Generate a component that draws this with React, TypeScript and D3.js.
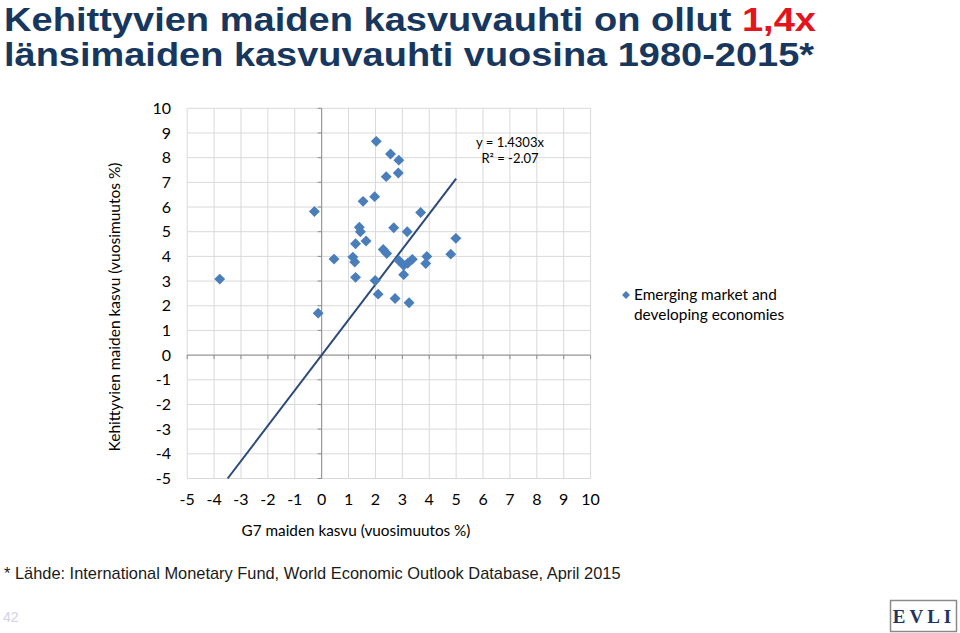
import React from "react";
import * as d3 from "d3";

const titleLine1 = "Kehittyvien maiden kasvuvauhti on ollut ";
const titleHighlight = "1,4x";
const titleLine2 = "länsimaiden kasvuvauhti vuosina 1980-2015*";
const footnote = "* Lähde: International Monetary Fund, World Economic Outlook Database, April 2015";
const xAxisTitle = "G7 maiden kasvu (vuosimuutos %)";
const yAxisTitle = "Kehittyvien maiden kasvu (vuosimuutos %)";
const legendLines = ["Emerging market and", "developing economies"];
const trendLabel = ["y = 1.4303x", "R² = -2.07"];
const trendSlope = 1.4303;
const pageNumber = "42";

const xTicks = d3.range(-5, 11, 1);
const yTicks = d3.range(-5, 11, 1);

// G7 growth (x) and emerging-market growth (y)
const g7Growth = [
  2.03, 2.56, 2.87, 2.4, 2.85, 1.97, 1.54, -0.27, 3.68, 1.4, 1.44, 2.68,
  3.18, 4.99, 1.26, 1.65, 2.29, 2.42, 0.46, 1.16, 1.23, 2.87, 3.05, 3.37,
  3.91, 3.87, 4.8, 3.05, 1.26, -3.79, 1.99, 2.1, 2.73, 3.25, -0.13, 3.2,
];
const emGrowth = [
  8.66, 8.15, 7.9, 7.23, 7.38, 6.42, 6.23, 5.82, 5.78, 5.18, 5.0, 5.16,
  5.0, 4.73, 4.51, 4.62, 4.28, 4.12, 3.89, 3.97, 3.77, 3.83, 3.64, 3.88,
  4.0, 3.71, 4.09, 3.26, 3.15, 3.08, 3.02, 2.47, 2.29, 2.12, 1.7, 3.72,
];

const chartFont = "Lato, 'Open Sans', sans-serif";
const titleFont = "'Liberation Sans Narrow', 'Liberation Sans', Arial, sans-serif";
const markerColor = "#4a7ebb";
const lineColor = "#2c4a78";
const titleColor = "#17375e";

export default function App() {
  const x = d3.scaleLinear().domain([-5, 10]).range([187.2, 590.6]);
  const y = d3.scaleLinear().domain([-5, 10]).range([478.5, 108.3]);
  const diamond = d3.symbol().type(d3.symbolDiamond2).size(76)();
  const legendDiamond = d3.symbol().type(d3.symbolDiamond2).size(40)();

  const xStart = -5 / trendSlope;
  const xEnd = 5;
  const trend = d3.line<number>()
    .x((d) => x(d))
    .y((d) => y(trendSlope * d))([xStart, xEnd]);

  return (
    <div style={{ position: "absolute", left: 0, top: 0 }}>
      <svg width={960} height={633} style={{ display: "block", background: "#fff" }}>
        {/* Title */}
        <text x={4} y={31} fontFamily={titleFont} fontWeight="bold" fontSize={33.5} fill={titleColor} textLength={812} lengthAdjust="spacingAndGlyphs">
          {titleLine1}
          <tspan fill="#e3141c">{titleHighlight}</tspan>
        </text>
        <text x={4} y={66} fontFamily={titleFont} fontWeight="bold" fontSize={33.5} fill={titleColor} textLength={810} lengthAdjust="spacingAndGlyphs">
          {titleLine2}
        </text>

        {/* Gridlines */}
        <g>
          {xTicks.map((t) => (
            <line key={"gx" + t} x1={x(t)} x2={x(t)} y1={y(10)} y2={y(-5)} stroke="#d9d9d9" strokeWidth={1} />
          ))}
          {yTicks.map((t) => (
            <line key={"gy" + t} x1={x(-5)} x2={x(10)} y1={y(t)} y2={y(t)} stroke="#d9d9d9" strokeWidth={1} />
          ))}
        </g>
        {/* Zero axes */}
        <line x1={x(0)} x2={x(0)} y1={y(10)} y2={y(-5)} stroke="#8c8c8c" strokeWidth={1} />
        <line x1={x(-5)} x2={x(10)} y1={y(0)} y2={y(0)} stroke="#8c8c8c" strokeWidth={1} />
        {yTicks.map((t) => (
          <line key={"ty" + t} x1={x(0) - 4} x2={x(0)} y1={y(t)} y2={y(t)} stroke="#8c8c8c" />
        ))}
        {xTicks.map((t) => (
          <line key={"tx" + t} x1={x(t)} x2={x(t)} y1={y(0)} y2={y(0) + 4} stroke="#8c8c8c" />
        ))}

        {/* Tick labels */}
        {yTicks.map((t) => (
          <text key={"ly" + t} x={171} y={y(t)} dy="0.35em" textAnchor="end" fontFamily={chartFont} fontSize={16} fill="#000">
            {t}
          </text>
        ))}
        {xTicks.map((t) => (
          <text key={"lx" + t} x={x(t)} y={499} dy="0.35em" textAnchor="middle" fontFamily={chartFont} fontSize={16} fill="#000">
            {t}
          </text>
        ))}

        {/* Axis titles */}
        <text x={356} y={531} dy="0.35em" textAnchor="middle" fontFamily={chartFont} fontSize={15.3} fill="#000">
          {xAxisTitle}
        </text>
        <text transform="translate(115,307) rotate(-90)" dy="0.35em" textAnchor="middle" fontFamily={chartFont} fontSize={15.5} fill="#000">
          {yAxisTitle}
        </text>

        {/* Trendline */}
        <path d={trend || ""} fill="none" stroke={lineColor} strokeWidth={2} />

        {/* Points */}
        {g7Growth.map((gx, i) => (
          <path key={"p" + i} d={diamond || ""} transform={`translate(${x(gx)},${y(emGrowth[i])})`} fill={markerColor} />
        ))}

        {/* Trend label */}
        {trendLabel.map((s, i) => (
          <text key={"tl" + i} x={510} y={142 + i * 16} dy="0.35em" textAnchor="middle" fontFamily={chartFont} fontSize={13} fill="#000">
            {s}
          </text>
        ))}

        {/* Legend */}
        <path d={legendDiamond || ""} transform="translate(626,295)" fill={markerColor} />
        {legendLines.map((s, i) => (
          <text key={"lg" + i} x={634} y={295 + i * 20} dy="0.35em" fontFamily={chartFont} fontSize={15.4} fill="#000">
            {s}
          </text>
        ))}

        {/* Footnote */}
        <text x={4} y={579} fontFamily="'Liberation Sans', Arial, sans-serif" fontSize={16.4} fill="#1a1a1a">
          {footnote}
        </text>

        {/* Page number */}
        <text x={3} y={622} fontFamily="'Liberation Sans', Arial, sans-serif" fontSize={14} fill="#d4cfe6">
          {pageNumber}
        </text>

        {/* Logo */}
        <rect x={890.5} y={600.5} width={66} height={31} fill="#fff" stroke="#8a8a8a" strokeWidth={1.5} />
        <text x={924} y={616} dy="0.36em" textAnchor="middle" fontFamily="'Liberation Serif', 'DejaVu Serif', serif" fontWeight="bold" fontSize={19} fill="#1f3560" letterSpacing={4}>
          EVLI
        </text>
      </svg>
    </div>
  );
}
